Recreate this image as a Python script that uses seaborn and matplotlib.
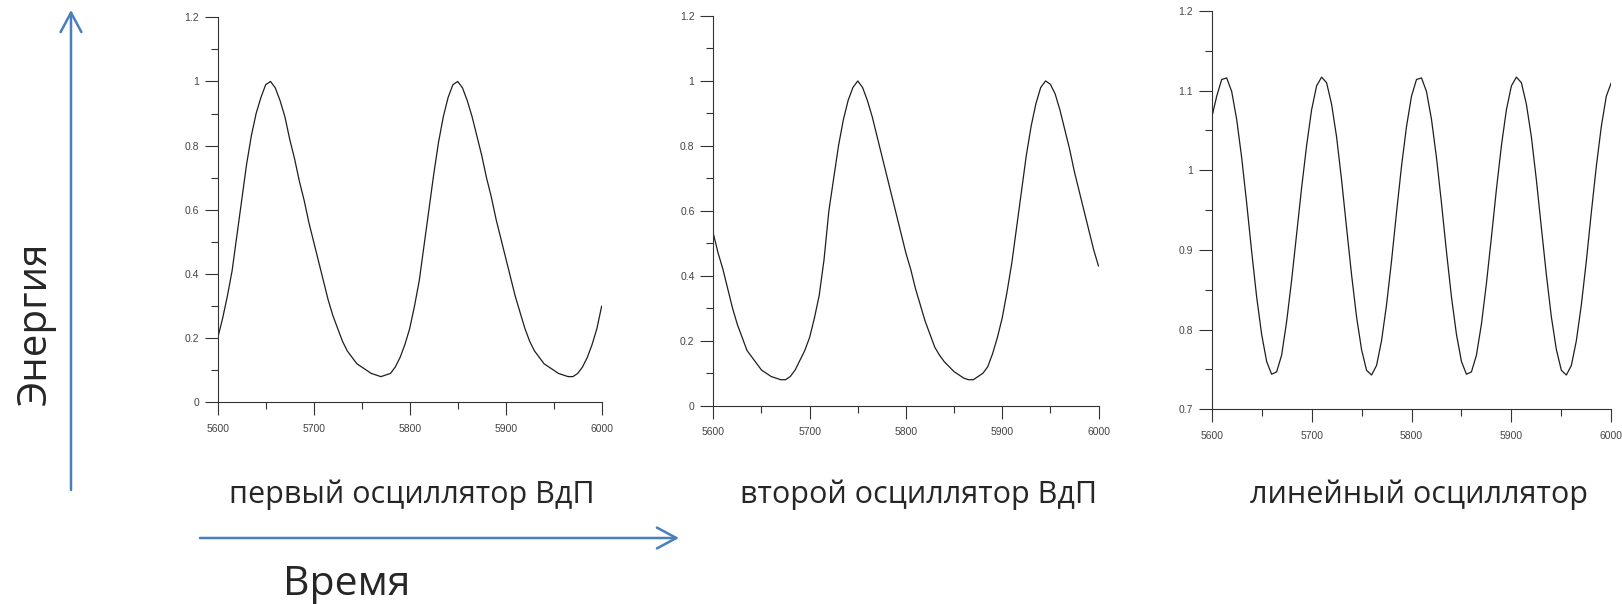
import numpy as np
import pandas as pd
import seaborn as sns
import matplotlib
matplotlib.use("Agg")
import matplotlib.pyplot as plt
from matplotlib.patches import FancyArrowPatch
from matplotlib.ticker import MultipleLocator, FuncFormatter

# time axis, one reading every 5 units
time = list(range(5600, 6001, 5))

# first Van der Pol oscillator energy
vdp1 = [0.20, 0.26, 0.33, 0.41, 0.52, 0.63, 0.74, 0.83, 0.90, 0.95,
        0.99, 1.00, 0.98, 0.94, 0.89, 0.82, 0.76, 0.69, 0.63, 0.56,
        0.50, 0.44, 0.38, 0.32, 0.27, 0.23, 0.19, 0.16, 0.14, 0.12,
        0.11, 0.10, 0.09, 0.085, 0.08, 0.085, 0.09, 0.11, 0.14, 0.18,
        0.23, 0.30, 0.38, 0.49, 0.60, 0.71, 0.81, 0.89, 0.95, 0.99,
        1.00, 0.98, 0.94, 0.89, 0.83, 0.77, 0.70, 0.64, 0.57, 0.51,
        0.45, 0.39, 0.33, 0.28, 0.23, 0.19, 0.16, 0.14, 0.12, 0.11,
        0.10, 0.09, 0.085, 0.08, 0.08, 0.09, 0.11, 0.14, 0.18, 0.23,
        0.30]

# second Van der Pol oscillator energy
vdp2 = [0.53, 0.47, 0.42, 0.36, 0.30, 0.25, 0.21, 0.17, 0.15, 0.13,
        0.11, 0.10, 0.09, 0.085, 0.08, 0.08, 0.09, 0.11, 0.14, 0.17,
        0.21, 0.27, 0.34, 0.45, 0.60, 0.70, 0.80, 0.88, 0.94, 0.98,
        1.00, 0.98, 0.94, 0.89, 0.83, 0.77, 0.71, 0.65, 0.59, 0.53,
        0.47, 0.42, 0.36, 0.31, 0.26, 0.22, 0.18, 0.155, 0.135, 0.12,
        0.105, 0.095, 0.085, 0.08, 0.08, 0.09, 0.10, 0.12, 0.16, 0.21,
        0.27, 0.35, 0.44, 0.55, 0.66, 0.77, 0.86, 0.93, 0.98, 1.00,
        0.99, 0.96, 0.91, 0.85, 0.79, 0.72, 0.66, 0.60, 0.54, 0.48,
        0.43]

# linear oscillator energy
lin = [1.066, 1.093, 1.114, 1.116, 1.099, 1.064, 1.016, 0.959, 0.898, 0.841,
       0.794, 0.760, 0.744, 0.747, 0.768, 0.810, 0.862, 0.920, 0.978, 1.031,
       1.076, 1.106, 1.117, 1.110, 1.083, 1.042, 0.988, 0.928, 0.869, 0.816,
       0.775, 0.749, 0.743, 0.755, 0.786, 0.831, 0.886, 0.947, 1.005, 1.055,
       1.093, 1.114, 1.116, 1.099, 1.064, 1.016, 0.959, 0.898, 0.841, 0.794,
       0.760, 0.744, 0.747, 0.768, 0.807, 0.858, 0.916, 0.976, 1.031, 1.076,
       1.106, 1.117, 1.110, 1.083, 1.042, 0.988, 0.928, 0.869, 0.816, 0.775,
       0.749, 0.743, 0.755, 0.786, 0.831, 0.886, 0.947, 1.005, 1.055, 1.093,
       1.110]

captions = ["первый осциллятор ВдП", "второй осциллятор ВдП", "линейный осциллятор"]
x_label = "Время"
y_label = "Энергия"

sns.set_style("ticks")
plt.rcParams['font.family'] = ['Open Sans', 'DejaVu Sans']

W, H = 1622, 604
fig = plt.figure(figsize=(W / 100, H / 100), dpi=100)

def px(x0, y0, x1, y1):
    # pixel box -> figure fraction [left, bottom, width, height]
    return [x0 / W, 1 - y1 / H, (x1 - x0) / W, (y1 - y0) / H]

panels = [
    (px(217.7, 17.3, 601.7, 402.3), vdp1, (0, 1.2), 0.2, 0.1),
    (px(713.3, 16.0, 1098.5, 405.7), vdp2, (0, 1.2), 0.2, 0.1),
    (px(1211.7, 11.0, 1611.3, 409.3), lin, (0.7, 1.2), 0.1, 0.05),
]

fmt = FuncFormatter(lambda v, p: "%g" % round(v, 3))
for box, vals, ylim, ymaj, ymin in panels:
    ax = fig.add_axes(box)
    df = pd.DataFrame({"t": time, "e": vals})
    sns.lineplot(data=df, x="t", y="e", ax=ax, color="#1e1e1e", linewidth=0.9)
    ax.set_xlim(5600, 6000)
    ax.set_ylim(*ylim)
    ax.xaxis.set_major_locator(MultipleLocator(100))
    ax.xaxis.set_minor_locator(MultipleLocator(50))
    ax.yaxis.set_major_locator(MultipleLocator(ymaj))
    ax.yaxis.set_minor_locator(MultipleLocator(ymin))
    ax.xaxis.set_major_formatter(fmt)
    ax.yaxis.set_major_formatter(fmt)
    ax.set_xlabel("")
    ax.set_ylabel("")
    for s in ["top", "right"]:
        ax.spines[s].set_visible(False)
    for s in ["left", "bottom"]:
        ax.spines[s].set_color("#333333")
        ax.spines[s].set_linewidth(0.8)
    ax.tick_params(which="major", length=9.5, width=0.8, color="#333333",
                   labelsize=7.5, labelcolor="#444444")
    ax.tick_params(which="minor", length=5, width=0.8, color="#333333")
    ax.tick_params(axis="x", which="major", pad=6)
    ax.tick_params(axis="y", which="major", pad=4)
    for lab in ax.get_xticklabels() + ax.get_yticklabels():
        lab.set_family(["Liberation Sans", "DejaVu Sans"])

# captions under the panels
for cx, txt in zip([412, 919, 1419], captions):
    fig.text(cx / W, 1 - 503 / H, txt, ha="center", va="baseline", fontsize=22)

fig.text(347 / W, 1 - 595 / H, x_label, ha="center", va="baseline", fontsize=29.5)
fig.text(36 / W, 1 - 323 / H, y_label, ha="center", va="center", rotation=90, fontsize=29)

arrow_col = "#4a7ebb"
style = "->,head_length=1.4,head_width=0.75"
fig.add_artist(FancyArrowPatch((71 / W, 1 - 490 / H), (71 / W, 1 - 10 / H),
                               transform=fig.transFigure, arrowstyle=style,
                               mutation_scale=10, color=arrow_col, lw=1.8,
                               shrinkA=0, shrinkB=0))
fig.add_artist(FancyArrowPatch((200 / W, 1 - 538 / H), (679 / W, 1 - 538 / H),
                               transform=fig.transFigure, arrowstyle=style,
                               mutation_scale=10, color=arrow_col, lw=1.8,
                               shrinkA=0, shrinkB=0))

fig.savefig("out.png", dpi=100)
